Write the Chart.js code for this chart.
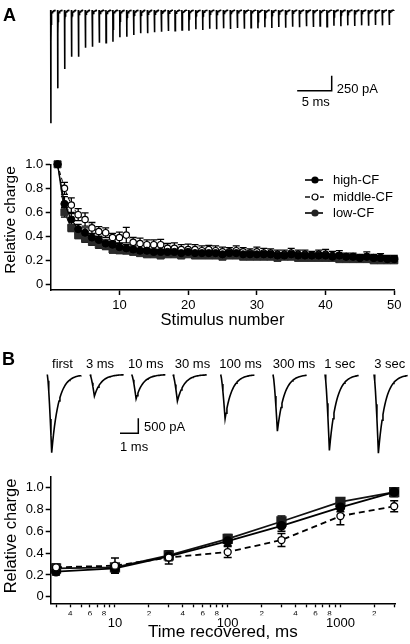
<!DOCTYPE html>
<html><head><meta charset="utf-8">
<script src="https://cdn.jsdelivr.net/npm/chart.js@4.4.1/dist/chart.umd.min.js"></script>
<style>
html,body{margin:0;padding:0;background:#fff;}
body{width:410px;height:644px;position:relative;overflow:hidden;font-family:'Liberation Sans',Arial,sans-serif;color:#000;}
canvas{position:absolute;}
.t{position:absolute;white-space:nowrap;line-height:1;}
.c{transform:translateX(-50%);}
.yt{position:absolute;white-space:nowrap;line-height:1;transform:translate(-50%,-50%) rotate(-90deg);}
.leg{position:absolute;height:16px;}
.leg svg{position:absolute;left:0;top:2px;}
.leg span{position:absolute;left:28px;top:0;font-size:13px;line-height:16px;white-space:nowrap;}
</style></head><body>

<canvas id="traceA" width="410" height="135" style="left:0;top:0"></canvas>
<canvas id="chartA" width="410" height="180" style="left:0;top:150px"></canvas>
<canvas id="traceB" width="410" height="120" style="left:0;top:340px"></canvas>
<canvas id="chartB" width="410" height="184" style="left:0;top:460px"></canvas>

<div class="t" style="left:3px;top:5.8px;font-size:18px;font-weight:bold">A</div>
<div class="t" style="left:336.7px;top:82px;font-size:13px">250 pA</div>
<div class="t" style="left:301.7px;top:95.3px;font-size:13px">5 ms</div>
<div class="yt" style="left:10px;top:220px;font-size:15.5px">Relative charge</div>

<div class="leg" style="left:305px;top:172px">
  <svg width="22" height="12"><line x1="0" y1="6" x2="18" y2="6" stroke="#000" stroke-width="1.6"/><circle cx="10" cy="6" r="3.6" fill="#000"/></svg>
  <span>high-CF</span></div>
<div class="leg" style="left:305px;top:188.7px">
  <svg width="22" height="12"><line x1="0" y1="6" x2="5" y2="6" stroke="#000" stroke-width="1.4"/><line x1="15" y1="6" x2="19" y2="6" stroke="#000" stroke-width="1.4"/><circle cx="10" cy="6" r="3" fill="#fff" stroke="#000" stroke-width="1.2"/></svg>
  <span>middle-CF</span></div>
<div class="leg" style="left:305px;top:205.3px">
  <svg width="22" height="12"><line x1="0" y1="6" x2="18" y2="6" stroke="#000" stroke-width="1.6"/><circle cx="10" cy="6" r="3.6" fill="#222"/></svg>
  <span>low-CF</span></div>

<div class="t" style="left:2px;top:349.8px;font-size:18px;font-weight:bold">B</div>
<div id="bLabels"></div>
<div class="t" style="left:144px;top:420.3px;font-size:13px">500 pA</div>
<div class="t" style="left:120px;top:440.3px;font-size:13px">1 ms</div>
<div class="yt" style="left:10px;top:536px;font-size:16.5px">Relative charge</div>

<script>
// ================= DATA =================
// Panel A: relative charge vs stimulus number
const stimulusNumbers = [1,2,3,4,5,6,7,8,9,10,11,12,13,14,15,16,17,18,19,20,21,22,23,24,25,26,27,28,29,30,31,32,33,34,35,36,37,38,39,40,41,42,43,44,45,46,47,48,49,50];
const highCF_A = [1.00,0.67,0.54,0.46,0.43,0.39,0.37,0.34,0.33,0.31,0.30,0.29,0.28,0.28,0.27,0.27,0.27,0.27,0.26,0.27,0.26,0.26,0.26,0.26,0.25,0.26,0.26,0.25,0.25,0.25,0.25,0.25,0.24,0.24,0.25,0.24,0.24,0.24,0.24,0.24,0.23,0.24,0.23,0.23,0.22,0.23,0.22,0.22,0.21,0.21];
const highCF_A_err = [0,0.06,0.05,0.04,0.04,0.03,0.03,0.03,0.03,0.03,0.03,0.03,0.02,0.02,0.02,0.02,0.02,0.02,0.02,0.02,0.02,0.02,0.02,0.02,0.02,0.02,0.02,0.02,0.02,0.02,0.02,0.02,0.02,0.02,0.02,0.02,0.02,0.02,0.02,0.02,0.02,0.02,0.02,0.02,0.02,0.02,0.02,0.02,0.02,0.02];
const middleCF_A = [1.00,0.80,0.66,0.58,0.54,0.47,0.44,0.43,0.39,0.39,0.41,0.35,0.34,0.33,0.33,0.33,0.30,0.30,0.29,0.29,0.29,0.28,0.29,0.28,0.27,0.27,0.28,0.27,0.26,0.27,0.26,0.26,0.25,0.25,0.26,0.25,0.25,0.24,0.25,0.25,0.24,0.24,0.23,0.23,0.22,0.23,0.22,0.22,0.21,0.21];
const middleCF_A_err = [0,0.05,0.06,0.05,0.055,0.045,0.04,0.04,0.035,0.045,0.065,0.04,0.045,0.04,0.04,0.045,0.04,0.045,0.04,0.045,0.04,0.04,0.035,0.04,0.04,0.035,0.04,0.035,0.035,0.04,0.04,0.035,0.035,0.035,0.04,0.035,0.035,0.035,0.035,0.04,0.035,0.04,0.03,0.03,0.03,0.04,0.03,0.035,0.03,0.03];
const lowCF_A = [1.00,0.60,0.47,0.41,0.38,0.355,0.33,0.32,0.29,0.285,0.28,0.27,0.26,0.25,0.25,0.24,0.25,0.25,0.24,0.25,0.24,0.24,0.24,0.24,0.23,0.24,0.24,0.23,0.23,0.23,0.23,0.23,0.22,0.23,0.23,0.22,0.22,0.22,0.22,0.22,0.22,0.21,0.21,0.21,0.21,0.21,0.20,0.20,0.20,0.20];
const lowCF_A_err = [0,0.04,0.03,0.03,0.03,0.03,0.03,0.03,0.03,0.03,0.02,0.02,0.02,0.02,0.02,0.02,0.02,0.02,0.02,0.02,0.02,0.02,0.02,0.02,0.02,0.02,0.02,0.02,0.02,0.02,0.02,0.02,0.02,0.02,0.02,0.02,0.02,0.02,0.02,0.02,0.02,0.02,0.02,0.02,0.02,0.02,0.02,0.02,0.02,0.02];

// Panel B: relative charge vs recovery interval
const recoveryIntervalsMs = [3,10,30,100,300,1000,3000];
const highCF_B = [0.23,0.26,0.37,0.51,0.65,0.82,0.96];
const highCF_B_err = [0.03,0.04,0.04,0.04,0.05,0.04,0.04];
const lowCF_B = [0.26,0.27,0.38,0.53,0.69,0.87,0.96];
const lowCF_B_err = [0.03,0.03,0.04,0.04,0.05,0.03,0.04];
const middleCF_B = [0.27,0.285,0.36,0.41,0.52,0.74,0.83];
const middleCF_B_err = [0.03,0.07,0.06,0.05,0.06,0.08,0.05];

// Ticks
const chargeTicks = [0,0.2,0.4,0.6,0.8,1.0];
const stimulusTicks = [10,20,30,40,50];
const recoveryTicks = [3,4,5,6,7,8,9,10,20,30,40,50,60,70,80,90,100,200,300,400,500,600,700,800,900,1000,2000,3000];
const recoveryMinorLabels = {4:'4',6:'6',8:'8',20:'2',40:'4',60:'6',80:'8',200:'2',400:'4',600:'6',800:'8',2000:'2'};
const recoveryMajorTicks = [10,100,1000];

// Example traces (peak amplitudes in pA)
const trainIntervalMs = 1;
const trainAmplitudesPA = [1889,1306,983,778,778,628,611,544,544,528,456,444,417,389,389,372,361,350,344,333,344,322,333,311,322,306,317,300,311,294,306,289,300,283,294,278,289,272,283,267,278,261,272,256,267,256,261,250,256,250];
const recoveryTraceLabels = ['first','3 ms','10 ms','30 ms','100 ms','300 ms','1 sec','3 sec'];
const recoveryTraceAmplitudesPA = [2610,723,810,890,1477,1890,2533,2620];

// ================= LAYOUT (px) =================
const TRACE_B_LEFT = [47.3,90,131.7,173,220.7,273,325,374];
const TRACE_B_LABEL_CX = [62.5,100,145.7,192.5,240.5,294,339.7,389.7];
const PX_PER_MS_B = 18.3;

// ================= HELPERS =================
Chart.defaults.font.family = "'Liberation Sans', Arial, sans-serif";
Chart.defaults.color = '#000';
Chart.defaults.animation = false;

const errorBarPlugin = {
  id: 'errorBars',
  beforeDatasetsDraw(chart) {
    const ctx = chart.ctx;
    chart.data.datasets.forEach((ds, di) => {
      if (!ds.errors) return;
      const meta = chart.getDatasetMeta(di);
      const ys = chart.scales[meta.yAxisID];
      ctx.save();
      ctx.strokeStyle = '#000';
      ctx.lineWidth = ds.errorWidth || 1.3;
      const cap = ds.capHalf || 3.5;
      meta.data.forEach((pt, i) => {
        const e = ds.errors[i];
        if (!e) return;
        const v = ds.data[i].y;
        const y1 = ys.getPixelForValue(v + e), y2 = ys.getPixelForValue(v - e);
        ctx.beginPath();
        ctx.moveTo(pt.x, y1); ctx.lineTo(pt.x, y2);
        ctx.moveTo(pt.x - cap, y1); ctx.lineTo(pt.x + cap, y1);
        ctx.moveTo(pt.x - cap, y2); ctx.lineTo(pt.x + cap, y2);
        ctx.stroke();
      });
      ctx.restore();
    });
  }
};

const scaleBarPlugin = {
  id: 'scaleBar',
  afterDatasetsDraw(chart, args, o) {
    if (!o || o.x === undefined) return;
    const xs = chart.scales.x, ys = chart.scales.y, ctx = chart.ctx;
    const x1 = xs.getPixelForValue(o.x), x0 = xs.getPixelForValue(o.x - o.dx);
    const y1 = ys.getPixelForValue(o.y), y0 = ys.getPixelForValue(o.y + o.dy);
    ctx.save();
    ctx.strokeStyle = '#000'; ctx.lineWidth = 1.5; ctx.lineCap = 'butt';
    ctx.beginPath(); ctx.moveTo(x0, y1); ctx.lineTo(x1, y1); ctx.lineTo(x1, y0); ctx.stroke();
    ctx.restore();
  }
};

function pts(xs, ys) { return xs.map((x, i) => ({x: x, y: ys[i]})); }

// train of EPSCs (shape model, amplitudes)
function trainWave(amps, interval) {
  const out = [];
  const offs = [0.012,0.025,0.045,0.07,0.1,0.14,0.19,0.25,0.32,0.4,0.49,0.59,0.7];
  amps.forEach((a, i) => {
    const t0 = i * interval;
    const slow = Math.min(115, 0.3 * a);
    out.push({x: t0, y: 0});
    out.push({x: t0 + 0.02, y: -a});
    offs.forEach(dt => out.push({x: t0 + 0.02 + dt, y: -(a - slow) * Math.exp(-dt / 0.018) - slow * Math.exp(-dt / 0.2)}));
    out.push({x: t0 + 0.8, y: null});
  });
  return out;
}
function epscWave(a, offsetMs) {
  const out = [];
  const tp = 0.24, tau = 0.37;
  for (let k = 0; k <= 6; k++) { const t = tp * k / 6; out.push({x: offsetMs + t, y: -a * Math.pow(t / tp, 1.4)}); }
  for (let k = 1; k <= 32; k++) { const t = 1.6 * k / 32; out.push({x: offsetMs + tp + t, y: -a * Math.exp(-t / tau)}); }
  return out;
}

const hiddenScales = (xmin, xmax, ymin, ymax) => ({
  x: {type: 'linear', display: false, min: xmin, max: xmax},
  y: {type: 'linear', display: false, min: ymin, max: ymax}
});

// ================= TRACE A =================
new Chart(document.getElementById('traceA'), {
  type: 'line',
  data: {datasets: [{data: trainWave(trainAmplitudesPA, trainIntervalMs), borderColor: '#000', borderWidth: 1.6, pointRadius: 0, tension: 0, spanGaps: false}]},
  options: {
    responsive: false, events: [], layout: {padding: 0},
    scales: hiddenScales(-7.34, 52.04, -2083, 166.7),
    plugins: {legend: {display: false}, tooltip: {enabled: false}, scaleBar: {x: 40.7, y: -1345, dx: 5, dy: 250}}
  },
  plugins: [scaleBarPlugin]
});

// ================= CHART A =================
const axisBorder = {display: true, color: '#000', width: 1.5};
const axisGrid = {display: true, drawOnChartArea: false, drawTicks: true, tickLength: 5, tickColor: '#000', tickWidth: 1.5, color: '#000'};
new Chart(document.getElementById('chartA'), {
  type: 'line',
  data: {datasets: [
    {label: 'high-CF', data: pts(stimulusNumbers, highCF_A), errors: highCF_A_err, order: 0,
     borderColor: '#000', borderWidth: 1.2, pointStyle: 'circle', pointRadius: 3.6,
     pointBackgroundColor: '#000', pointBorderColor: '#000', pointBorderWidth: 1, clip: false},
    {label: 'middle-CF', data: pts(stimulusNumbers, middleCF_A), errors: middleCF_A_err, order: 1,
     borderColor: '#000', borderWidth: 1, borderDash: [4, 3], pointStyle: 'circle', pointRadius: 3.2,
     pointBackgroundColor: '#fff', pointBorderColor: '#000', pointBorderWidth: 1.2, clip: false},
    {label: 'low-CF', data: pts(stimulusNumbers, lowCF_A), errors: lowCF_A_err, order: 2,
     borderColor: '#222', borderWidth: 1.2, pointStyle: 'rect', pointRadius: 5,
     pointBackgroundColor: '#2b2b2b', pointBorderColor: '#2b2b2b', pointBorderWidth: 1, clip: false}
  ]},
  options: {
    responsive: false, events: [],
    layout: {padding: {left: 0, right: 15.7, top: 14.3, bottom: 0}},
    scales: {
      x: {type: 'linear', min: 0, max: 50,
          afterBuildTicks: s => { s.ticks = stimulusTicks.map(v => ({value: v})); },
          afterFit: s => { s.height = 40; },
          border: axisBorder, grid: axisGrid,
          ticks: {font: {size: 13}, padding: 3, maxRotation: 0, autoSkip: false},
          title: {display: true, text: 'Stimulus number', font: {size: 16.5}, padding: {top: 0, bottom: 0}}},
      y: {type: 'linear', min: -0.0475, max: 1.0,
          afterBuildTicks: s => { s.ticks = chargeTicks.map(v => ({value: v})); },
          afterFit: s => { s.width = 50.7; },
          border: axisBorder, grid: axisGrid,
          ticks: {font: {size: 13}, padding: 2.5, callback: v => v === 0 ? '0' : v.toFixed(1)}}
    },
    plugins: {legend: {display: false}, tooltip: {enabled: false}}
  },
  plugins: [errorBarPlugin]
});

// ================= TRACES B =================
const traceDatasets = recoveryTraceAmplitudesPA.map((a, i) => ({
  data: epscWave(a, TRACE_B_LEFT[i] / PX_PER_MS_B), borderColor: '#000', borderWidth: 1.6, pointRadius: 0, tension: 0
}));
new Chart(document.getElementById('traceB'), {
  type: 'line',
  data: {datasets: traceDatasets},
  options: {
    responsive: false, events: [], layout: {padding: 0},
    scales: hiddenScales(0, 410 / PX_PER_MS_B, -2850, 1150),
    plugins: {legend: {display: false}, tooltip: {enabled: false}, scaleBar: {x: 138.3 / PX_PER_MS_B, y: -1960, dx: 1, dy: 500}}
  },
  plugins: [scaleBarPlugin]
});
const bl = document.getElementById('bLabels');
recoveryTraceLabels.forEach((txt, i) => {
  const d = document.createElement('div');
  d.className = 't c';
  d.style.left = TRACE_B_LABEL_CX[i] + 'px';
  d.style.top = '356.7px';
  d.style.fontSize = '13px';
  d.textContent = txt;
  bl.appendChild(d);
});

// ================= CHART B =================
new Chart(document.getElementById('chartB'), {
  type: 'line',
  data: {datasets: [
    {label: 'middle-CF', data: pts(recoveryIntervalsMs, middleCF_B), errors: middleCF_B_err, capHalf: 4, errorWidth: 1.5, order: 0,
     borderColor: '#000', borderWidth: 1.8, borderDash: [6, 4], pointStyle: 'circle', pointRadius: 3.5,
     pointBackgroundColor: '#fff', pointBorderColor: '#000', pointBorderWidth: 1.3, clip: false},
    {label: 'high-CF', data: pts(recoveryIntervalsMs, highCF_B), errors: highCF_B_err, capHalf: 4, errorWidth: 1.5, order: 1,
     borderColor: '#000', borderWidth: 1.8, pointStyle: 'circle', pointRadius: 4,
     pointBackgroundColor: '#000', pointBorderColor: '#000', clip: false},
    {label: 'low-CF', data: pts(recoveryIntervalsMs, lowCF_B), errors: lowCF_B_err, capHalf: 4, errorWidth: 1.5, order: 2,
     borderColor: '#111', borderWidth: 1.8, pointStyle: 'rect', pointRadius: 6,
     pointBackgroundColor: '#1e1e1e', pointBorderColor: '#1e1e1e', clip: false}
  ]},
  options: {
    responsive: false, events: [],
    layout: {padding: {left: 0, right: 15, top: 16.8, bottom: 0}},
    scales: {
      x: {type: 'logarithmic', min: 2.69, max: 3050, weight: 0,
          afterBuildTicks: s => { s.ticks = recoveryTicks.map(v => ({value: v})); },
          afterFit: s => { s.height = 12; },
          border: axisBorder,
          grid: {display: true, drawOnChartArea: false, drawTicks: true, tickLength: 4, tickColor: '#000', tickWidth: 1.3, color: '#000'},
          ticks: {font: {size: 8}, padding: 2, maxRotation: 0, autoSkip: false, callback: v => recoveryMinorLabels[v] || ''}},
      x2: {type: 'logarithmic', axis: 'x', position: 'bottom', min: 2.69, max: 3050, weight: 1,
          afterBuildTicks: s => { s.ticks = recoveryMajorTicks.map(v => ({value: v})); },
          afterFit: s => { s.height = 28.7; },
          border: {display: false}, grid: {display: false, drawTicks: false, tickLength: 0},
          ticks: {font: {size: 13}, padding: 0, maxRotation: 0, autoSkip: false, callback: v => String(v)},
          title: {display: true, text: 'Time recovered, ms', font: {size: 17}, padding: {top: 0, bottom: 1.3}}},
      y: {type: 'linear', min: -0.06, max: 1.1,
          afterBuildTicks: s => { s.ticks = chargeTicks.map(v => ({value: v})); },
          afterFit: s => { s.width = 50.7; },
          border: axisBorder, grid: axisGrid,
          ticks: {font: {size: 13}, padding: 2, callback: v => v === 0 ? '0' : v.toFixed(1)}}
    },
    plugins: {legend: {display: false}, tooltip: {enabled: false}}
  },
  plugins: [errorBarPlugin]
});
</script>
</body></html>
